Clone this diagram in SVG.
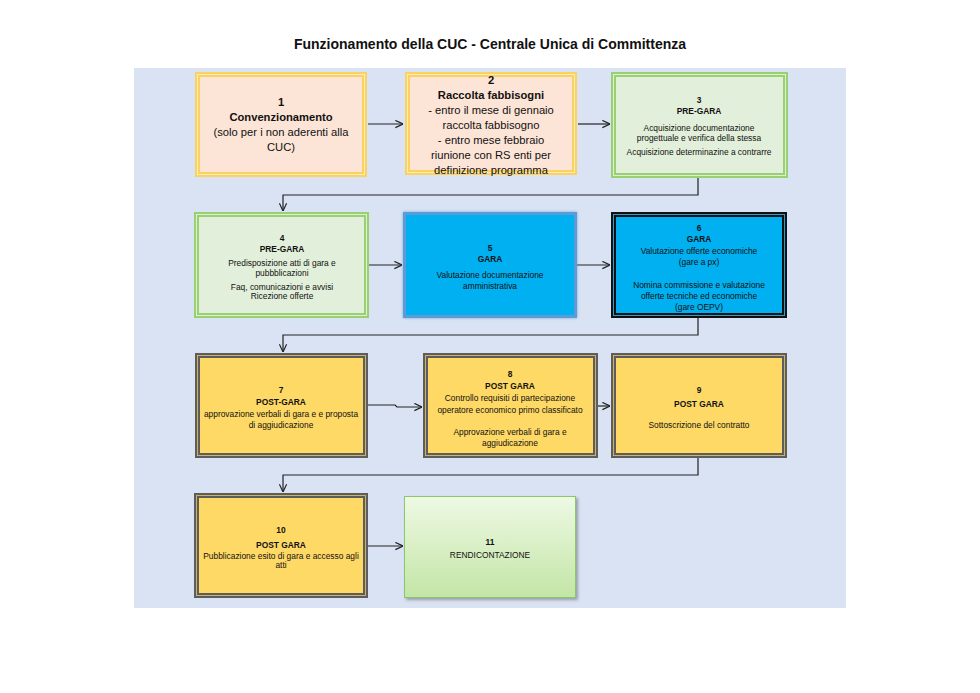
<svg xmlns="http://www.w3.org/2000/svg" width="980" height="693" viewBox="0 0 980 693">
<defs>
<marker id="arr" viewBox="0 0 10 10" refX="9.5" refY="5" markerWidth="9" markerHeight="9" markerUnits="userSpaceOnUse" orient="auto">
<path d="M1,1 L9.5,5 L1,9" fill="none" stroke="#222" stroke-width="1.3"/>
</marker>
<linearGradient id="g11" x1="0" y1="0" x2="0" y2="1">
<stop offset="0" stop-color="#eef9e4"/>
<stop offset="1" stop-color="#c3e5a6"/>
</linearGradient>
<filter id="sh" x="-10%" y="-10%" width="130%" height="130%">
<feDropShadow dx="2" dy="2" stdDeviation="1.5" flood-color="#000" flood-opacity="0.3"/>
</filter>
<filter id="glow" x="-10%" y="-10%" width="120%" height="120%">
<feDropShadow dx="0" dy="0" stdDeviation="1.5" flood-color="#5b9bd5" flood-opacity="0.8"/>
</filter>
</defs>
<style>
text{font-family:"Liberation Sans",Arial,sans-serif;fill:#111;text-anchor:middle}
.t{font-size:14px;font-weight:bold}
.l{font-size:11.2px}
.lb{font-size:11.2px;font-weight:bold}
.s{font-size:8.4px}
.sb{font-size:8.4px;font-weight:bold}
.peach{fill:#fce4d6;stroke:#fbd262;stroke-width:5}
.green{fill:#e2efda;stroke:#98d072;stroke-width:5}
.gold{fill:#ffd966;stroke:#5d5d5d;stroke-width:5}
.black{fill:#00b0f0;stroke:#111;stroke-width:5}
.inY{fill:none;stroke:#fdeeb5;stroke-width:1}
.inG{fill:none;stroke:#dff0d2;stroke-width:1}
.inD{fill:none;stroke:#cdb36a;stroke-width:1}
.inB{fill:none;stroke:#2aa0d0;stroke-width:1}
.c{fill:none;stroke:#222;stroke-width:1.2}
</style>
<rect x="0" y="0" width="980" height="693" fill="#ffffff"/>
<text class="t" x="490" y="49">Funzionamento della CUC - Centrale Unica di Committenza</text>
<rect x="134" y="68" width="712" height="540" fill="#dae3f3"/>

<g id="connectors">
<path class="c" d="M368,124 H403" marker-end="url(#arr)"/>
<path class="c" d="M578,124 H610" marker-end="url(#arr)"/>
<path class="c" d="M698,178 V195 H283 V211" marker-end="url(#arr)"/>
<path class="c" d="M369,265 H402" marker-end="url(#arr)"/>
<path class="c" d="M577,265 H610" marker-end="url(#arr)"/>
<path class="c" d="M698,318 V335 H283 V352" marker-end="url(#arr)"/>
<path class="c" d="M368,405 H395 L397,407 H422" marker-end="url(#arr)"/>
<path class="c" d="M598,406 H610" marker-end="url(#arr)"/>
<path class="c" d="M698,458 V475 H283 V492" marker-end="url(#arr)"/>
<path class="c" d="M368,546 H403" marker-end="url(#arr)"/>
</g>

<g id="node1">
<rect class="peach" x="197.5" y="74.5" width="167" height="100"/>
<rect class="inY" x="197.5" y="74.5" width="167" height="100"/>
<text class="lb" x="281" y="106">1</text>
<text class="lb" x="281" y="121">Convenzionamento</text>
<text class="l" x="281" y="136">(solo per i non aderenti alla</text>
<text class="l" x="281" y="151">CUC)</text>
</g>

<g id="node2">
<rect class="peach" x="407.5" y="74.5" width="167" height="98"/>
<rect class="inY" x="407.5" y="74.5" width="167" height="98"/>
<text class="lb" x="491" y="84">2</text>
<text class="lb" x="491" y="99">Raccolta fabbisogni</text>
<text class="l" x="491" y="114">- entro il mese di gennaio</text>
<text class="l" x="491" y="129">raccolta fabbisogno</text>
<text class="l" x="491" y="144">- entro mese febbraio</text>
<text class="l" x="491" y="159">riunione con RS enti per</text>
<text class="l" x="491" y="174">definizione programma</text>
</g>

<g id="node3">
<rect class="green" x="613.5" y="74.5" width="172" height="101"/>
<rect class="inG" x="613.5" y="74.5" width="172" height="101"/>
<text class="sb" x="699" y="103">3</text>
<text class="sb" x="699" y="114">PRE-GARA</text>
<text class="s" x="699" y="131">Acquisizione documentazione</text>
<text class="s" x="699" y="141">progettuale e verifica della stessa</text>
<text class="s" x="699" y="155">Acquisizione determinazine a contrarre</text>
</g>

<g id="node4">
<rect class="green" x="196.5" y="214.5" width="170" height="101"/>
<rect class="inG" x="196.5" y="214.5" width="170" height="101"/>
<text class="sb" x="282" y="241">4</text>
<text class="sb" x="282" y="252">PRE-GARA</text>
<text class="s" x="282" y="266">Predisposizione atti di gara e</text>
<text class="s" x="282" y="276">pubbblicazioni</text>
<text class="s" x="282" y="290">Faq, comunicazioni e avvisi</text>
<text class="s" x="282" y="299">Ricezione offerte</text>
</g>

<g id="node5">
<rect x="404.5" y="213.5" width="171" height="103" fill="#00b0f0" stroke="#5b9bd5" stroke-width="3" filter="url(#glow)"/>
<text class="sb" x="490" y="251">5</text>
<text class="sb" x="490" y="262">GARA</text>
<text class="s" x="490" y="278">Valutazione documentazione</text>
<text class="s" x="490" y="289">amministrativa</text>
</g>

<g id="node6">
<rect class="black" x="613.5" y="214.5" width="171" height="101"/>
<rect class="inB" x="613.5" y="214.5" width="171" height="101"/>
<text class="sb" x="699" y="231">6</text>
<text class="sb" x="699" y="242">GARA</text>
<text class="s" x="699" y="254">Valutazione offerte economiche</text>
<text class="s" x="699" y="265">(gare a px)</text>
<text class="s" x="699" y="288">Nomina commissione e valutazione</text>
<text class="s" x="699" y="299">offerte tecniche ed economiche</text>
<text class="s" x="699" y="310">(gare OEPV)</text>
</g>

<g id="node7">
<rect class="gold" x="197.5" y="355.5" width="168" height="100"/>
<rect class="inD" x="197.5" y="355.5" width="168" height="100"/>
<text class="sb" x="281" y="393">7</text>
<text class="sb" x="281" y="405">POST-GARA</text>
<text class="s" x="281" y="417">approvazione verbali di gara e e proposta</text>
<text class="s" x="281" y="428">di aggiudicazione</text>
</g>

<g id="node8">
<rect class="gold" x="425.5" y="355.5" width="170" height="100"/>
<rect class="inD" x="425.5" y="355.5" width="170" height="100"/>
<text class="sb" x="510" y="377">8</text>
<text class="sb" x="510" y="389">POST GARA</text>
<text class="s" x="510" y="401">Controllo requisiti di partecipazione</text>
<text class="s" x="510" y="413">operatore economico primo classificato</text>
<text class="s" x="510" y="435">Approvazione verbali di gara e</text>
<text class="s" x="510" y="446">aggiudicazione</text>
</g>

<g id="node9">
<rect class="gold" x="613.5" y="355.5" width="171" height="100"/>
<rect class="inD" x="613.5" y="355.5" width="171" height="100"/>
<text class="sb" x="699" y="393">9</text>
<text class="sb" x="699" y="407">POST GARA</text>
<text class="s" x="699" y="428">Sottoscrizione del contratto</text>
</g>

<g id="node10">
<rect class="gold" x="196.5" y="495.5" width="169" height="100"/>
<rect class="inD" x="196.5" y="495.5" width="169" height="100"/>
<text class="sb" x="281" y="533">10</text>
<text class="sb" x="281" y="548">POST GARA</text>
<text class="s" x="281" y="559">Pubblicazione esito di gara e accesso agli</text>
<text class="s" x="281" y="568">atti</text>
</g>

<g id="node11">
<rect x="404.5" y="496.5" width="171" height="101" fill="url(#g11)" stroke="#8cc66a" stroke-width="1" filter="url(#sh)"/>
<text class="sb" x="490" y="545">11</text>
<text class="s" x="490" y="558">RENDICONTAZIONE</text>
</g>
</svg>
